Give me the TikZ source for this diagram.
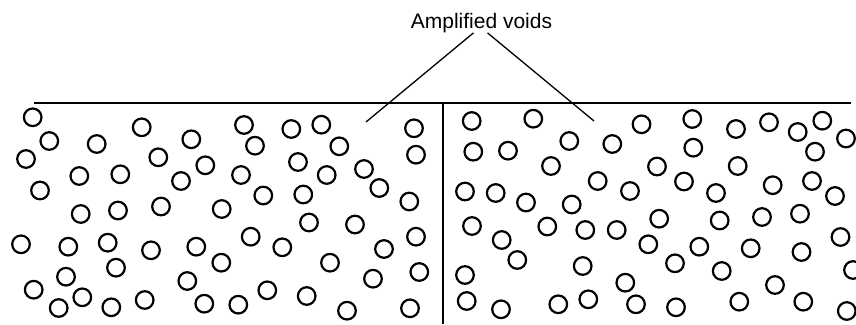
\documentclass[tikz,border=0pt]{standalone}
\usepackage{fontspec}
\setmainfont{Liberation Sans}
\begin{document}
\begin{tikzpicture}[x=1pt,y=-1pt,
  void/.style={draw=black,line width=2.2pt},
  rule/.style={draw=black,line width=2pt},
  leader/.style={draw=black,line width=1.3pt},
  lbl/.style={font=\fontsize{21}{24}\selectfont,inner sep=0pt,anchor=base}]
\useasboundingbox (0,0) rectangle (856,324);
% label
\node[lbl] (label) at (481.5,28.3) {Amplified voids};
\coordinate (v1) at (366,122);
\coordinate (v2) at (594,121);
\draw[leader] ([xshift=-8pt]label.south) -- (v1);
\draw[leader] ([xshift=6pt]label.south) -- (v2);
% surface and divider
\coordinate (tl) at (34,103);
\coordinate (tr) at (851,103);
\coordinate (dt) at (443,103);
\coordinate (db) at (443,324);
\draw[rule] (tl) -- (tr);
\draw[rule] (dt) -- (db);
% voids
\foreach \x/\y in {
32.7/117.3, 49.3/141, 96.7/144, 141.7/127.3, 191.3/139.3, 26/159, 158.3/157.3,
205.3/165.3, 79.3/176, 120.3/174.3, 181/181, 40/190.5, 80.7/214, 118/210.5,
161/206.5, 221.7/209, 21/244.3, 68.3/246.7, 107.7/242.7, 151/250.3, 196.3/246.7,
221.3/262.7, 116/267.7, 66/276.7, 33.7/289.7, 82.3/297.3, 58.7/308, 111.3/307.3,
144.7/300, 187.3/281, 204.3/303.7, 244/125, 291.3/129, 321.3/124.7, 255/145.7,
339.3/146.3, 414/128.3, 416/154.7, 298/162, 326.7/175, 364/169, 241/175,
379.3/188, 263.3/195.5, 303.3/194.5, 409.3/201.5, 309/222.5, 355/224.5,
250.7/236.7, 282.3/247.3, 384/249, 416/236.7, 330/262.7, 373/278.7, 419.3/272,
267.3/290.3, 306.7/296, 238.3/304.7, 347/310.7, 410/308.3,
471.7/121, 533.3/118.7, 569.3/141, 612.3/144, 641.5/124.3, 473.3/151.7,
508/150.7, 551/166, 597.7/181, 465/191.5, 495.7/193, 526/202.5, 571.7/204.5,
630/191, 657/166.5, 472/226, 501.7/240, 547.3/226.5, 585.3/230, 616.7/230,
648.3/244.3, 517.3/260, 582.7/266, 465/275, 625.3/282.7, 466.7/301, 501/309.3,
558.3/304.3, 588.3/299.3, 636/304.3, 692.3/119, 736/129, 769/122.3, 797.7/132,
822.3/120.7, 846/138.5, 693.3/147.7, 737.7/166, 815/151.7, 684/181.5, 716/193,
772.7/185.2, 812/181, 835/196, 659.2/218.7, 719.7/220.5, 762/217, 800/213.7,
699.3/246.7, 750.7/248.3, 801.5/252, 840.5/237, 675/263.3, 721.7/271, 775/285,
853/270, 676/307.3, 739.3/301.7, 803.3/301.7, 846.8/311}
  \draw[void] (\x,\y) circle[radius=8.8pt];
\end{tikzpicture}
\end{document}
